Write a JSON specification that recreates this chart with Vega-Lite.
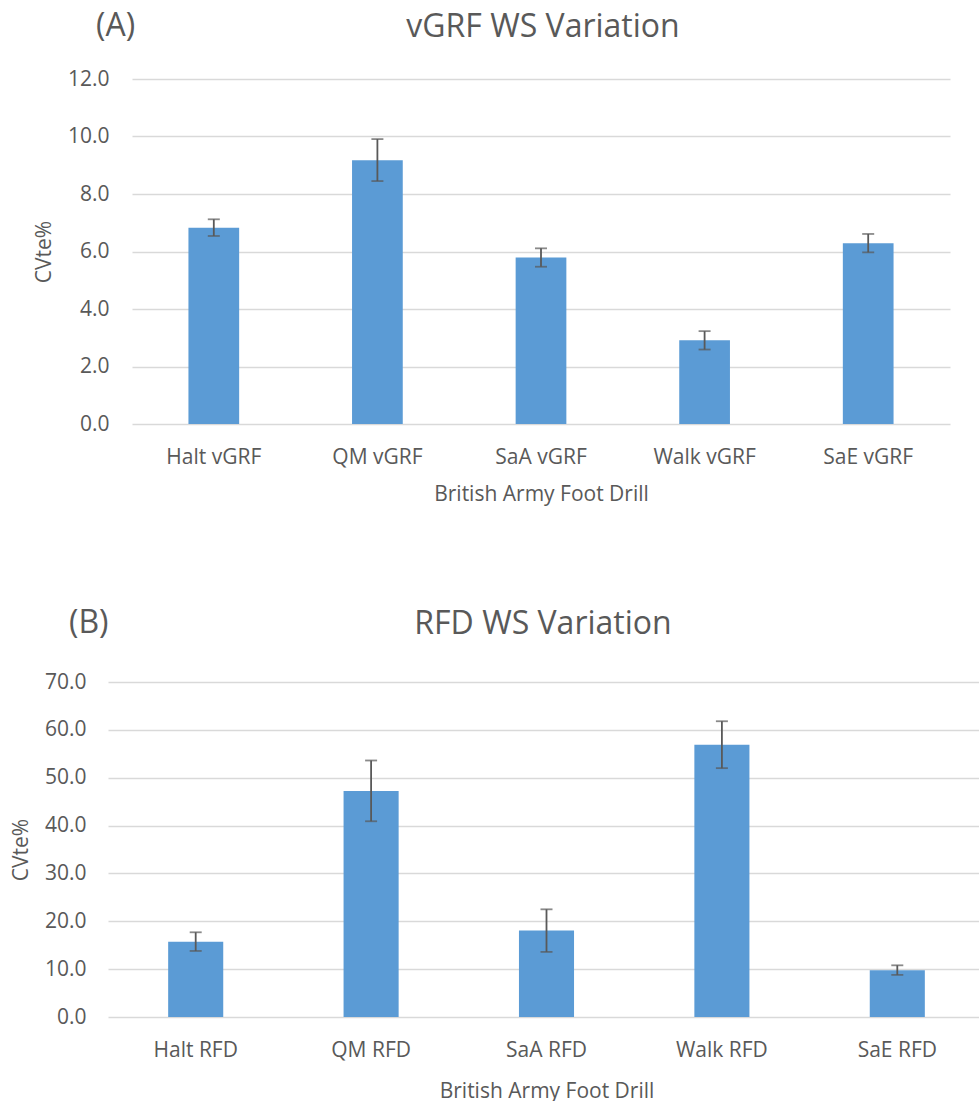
{
  "$schema": "https://vega.github.io/schema/vega-lite/v6.json",
  "padding": {"left": 10, "top": 10, "right": 0, "bottom": 0},
  "autosize": {"type": "pad"},
  "background": "white",
  "config": {
    "font": "Open Sans",
    "view": {"stroke": null},
    "axis": {
      "labelColor": "#595959", "titleColor": "#595959",
      "labelFont": "Open Sans", "titleFont": "Open Sans",
      "labelFontSize": 21, "titleFontSize": 21, "titleFontWeight": "normal",
      "domain": false, "ticks": false,
      "gridColor": "#d9d9d9", "gridWidth": 1.3
    },
    "title": {"color": "#595959", "fontSize": 32, "fontWeight": "normal", "font": "Open Sans"}
  },
  "datasets": {
    "vgrf": [
      {"drill": "Halt vGRF", "cv": 6.83, "lo": 6.54, "hi": 7.12},
      {"drill": "QM vGRF", "cv": 9.17, "lo": 8.45, "hi": 9.91},
      {"drill": "SaA vGRF", "cv": 5.79, "lo": 5.47, "hi": 6.11},
      {"drill": "Walk vGRF", "cv": 2.91, "lo": 2.59, "hi": 3.23},
      {"drill": "SaE vGRF", "cv": 6.29, "lo": 5.97, "hi": 6.61}
    ],
    "rfd": [
      {"drill": "Halt RFD", "cv": 15.74, "lo": 13.8, "hi": 17.7},
      {"drill": "QM RFD", "cv": 47.25, "lo": 40.9, "hi": 53.6},
      {"drill": "SaA RFD", "cv": 18.05, "lo": 13.6, "hi": 22.5},
      {"drill": "Walk RFD", "cv": 56.87, "lo": 52.0, "hi": 61.8},
      {"drill": "SaE RFD", "cv": 9.76, "lo": 8.8, "hi": 10.8}
    ]
  },
  "spacing": 103,
  "vconcat": [
    {
      "title": {"text": "(A)", "anchor": "start", "frame": "group", "dx": -12, "dy": 36},
      "vconcat": [
        {
          "width": 842, "height": 345,
          "title": {"text": "vGRF WS Variation", "dx": 14, "offset": 24},
          "data": {"name": "vgrf"},
          "encoding": {
            "x": {"field": "drill", "type": "nominal", "sort": null,
              "scale": {"range": [24, 842], "paddingInner": 0.69, "paddingOuter": 0.345},
              "axis": {"title": "British Army Foot Drill", "labelAngle": 0, "labelPadding": 22, "titlePadding": 16}}
          },
          "layer": [
            {"mark": {"type": "bar", "color": "#5B9BD5"},
             "encoding": {"y": {"field": "cv", "type": "quantitative", "title": "CVte%",
               "scale": {"domain": [0, 12]},
               "axis": {"values": [0, 2, 4, 6, 8, 10, 12], "format": ".1f", "grid": false,
                 "ticks": true, "tickColor": "#d9d9d9", "tickWidth": 1.3, "tickSize": -818,
                 "offset": -24, "labelPadding": 841, "titlePadding": 13}}}},
            {"mark": {"type": "rule", "color": "#595959", "strokeWidth": 1.8},
             "encoding": {"y": {"field": "lo", "type": "quantitative", "title": "CVte%"}, "y2": {"field": "hi"}}},
            {"mark": {"type": "tick", "color": "#595959", "thickness": 1.8, "size": 12},
             "encoding": {"y": {"field": "lo", "type": "quantitative", "title": "CVte%"}}},
            {"mark": {"type": "tick", "color": "#595959", "thickness": 1.8, "size": 12},
             "encoding": {"y": {"field": "hi", "type": "quantitative", "title": "CVte%"}}}
          ]
        }
      ]
    },
    {
      "title": {"text": "(B)", "anchor": "start", "frame": "group", "dx": -39, "dy": 36},
      "vconcat": [
        {
          "width": 870, "height": 335,
          "title": {"text": "RFD WS Variation", "dx": 0, "offset": 30},
          "data": {"name": "rfd"},
          "encoding": {
            "x": {"field": "drill", "type": "nominal", "sort": null,
              "scale": {"range": [0, 877], "paddingInner": 0.686, "paddingOuter": 0.343},
              "axis": {"title": "British Army Foot Drill", "labelAngle": 0, "labelPadding": 22, "titlePadding": 20}}
          },
          "layer": [
            {"mark": {"type": "bar", "color": "#5B9BD5"},
             "encoding": {"y": {"field": "cv", "type": "quantitative", "title": "CVte%",
               "scale": {"domain": [0, 70]},
               "axis": {"values": [0, 10, 20, 30, 40, 50, 60, 70], "format": ".1f", "grid": true,
                 "labelPadding": 22, "titlePadding": 13}}}},
            {"mark": {"type": "rule", "color": "#595959", "strokeWidth": 1.8},
             "encoding": {"y": {"field": "lo", "type": "quantitative", "title": "CVte%"}, "y2": {"field": "hi"}}},
            {"mark": {"type": "tick", "color": "#595959", "thickness": 1.8, "size": 12},
             "encoding": {"y": {"field": "lo", "type": "quantitative", "title": "CVte%"}}},
            {"mark": {"type": "tick", "color": "#595959", "thickness": 1.8, "size": 12},
             "encoding": {"y": {"field": "hi", "type": "quantitative", "title": "CVte%"}}}
          ]
        }
      ]
    }
  ]
}
